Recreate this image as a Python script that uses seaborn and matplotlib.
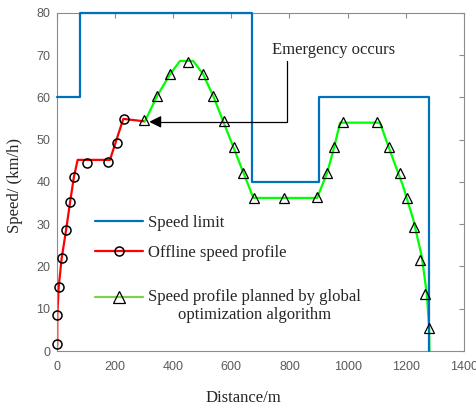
"""Speed profiles along the line: speed limit, offline profile and globally optimized profile."""

import matplotlib
matplotlib.use("Agg")
import matplotlib.pyplot as plt
import seaborn as sns
from matplotlib.lines import Line2D

# Speed limit breakpoints (drawn as a post-step line).
limit_x = [0, 80, 671, 900, 1280, 1280]
limit_y = [60, 80, 40, 60, 0, 0]

# Offline speed profile: the red line and its circle samples.
offline_x = [0, 2, 2, 7, 17, 32, 46, 59, 72, 183, 229, 303]
offline_y = [0, 1.7, 8.4, 15.2, 21.9, 28.5, 35.2, 41.1, 45.2, 45.2, 54.9, 54.3]
circle_x = [2, 2, 7, 17, 32, 46, 59, 105, 177, 206, 233]
circle_y = [1.7, 8.4, 15.2, 21.9, 28.5, 35.2, 41.1, 44.4, 44.8, 49.3, 54.8]

# Profile planned by the global optimization: green line and triangle samples.
planned_x = [303, 345, 390, 424, 469, 503, 538, 676, 895, 930, 954, 974,
             1111, 1157, 1191, 1226, 1255, 1272, 1280, 1281]
planned_y = [54.3, 60.3, 65.5, 68.6, 68.6, 65.5, 60.3, 36.2, 36.2, 42.2, 48.3, 54.0,
             54.0, 45.2, 38.9, 31.0, 22.3, 13.6, 5.7, 0]
tri_x = [301, 345, 390, 452, 503, 538, 574, 611, 641, 678, 783, 896,
         930, 954, 985, 1101, 1143, 1179, 1204, 1228, 1249, 1267, 1279]
tri_y = [54.6, 60.3, 65.5, 68.4, 65.5, 60.3, 54.4, 48.3, 42.2, 36.3, 36.3, 36.4,
         42.2, 48.3, 54.1, 54.1, 48.3, 42.2, 36.3, 29.4, 21.5, 13.6, 5.4]

x_ticks = list(range(0, 1401, 200))
y_ticks = list(range(0, 81, 10))

BLUE = "#0072BD"
RED = "#FF0000"
GREEN = "#00FF00"
SERIF = "Liberation Serif"

sns.set_theme(style="white")
plt.rcParams["font.family"] = [SERIF, "DejaVu Serif"]

fig = plt.figure(figsize=(4.76, 4.05), dpi=100)
ax = fig.add_axes([0.1191, 0.1333, 0.8557, 0.8353])

sns.lineplot(x=limit_x, y=limit_y, ax=ax, color=BLUE, lw=1.6, drawstyle="steps-post",
             estimator=None, sort=False, zorder=3, clip_on=False)
sns.lineplot(x=offline_x, y=offline_y, ax=ax, color=RED, lw=1.6, estimator=None, sort=False)
sns.lineplot(x=planned_x, y=planned_y, ax=ax, color=GREEN, lw=1.6, estimator=None, sort=False)
sns.lineplot(x=circle_x, y=circle_y, ax=ax, ls="none", marker="o", ms=6.5, mfc="none",
             mec="black", mew=1.1, estimator=None, sort=False, zorder=4, clip_on=False)
sns.lineplot(x=tri_x, y=tri_y, ax=ax, ls="none", marker="^", ms=7.5, mfc="none",
             mec="black", mew=0.9, estimator=None, sort=False, zorder=4, clip_on=False)

# Emergency annotation with an elbow leader ending in an arrow.
ax.annotate("", xy=(318, 54.2), xytext=(793, 68.6),
            arrowprops=dict(arrowstyle="-|>,head_length=0.6,head_width=0.3", color="black",
                            lw=0.9, mutation_scale=12, shrinkA=0, shrinkB=0,
                            connectionstyle="angle,angleA=90,angleB=0,rad=0"))
ax.text(951, 71.2, "Emergency occurs", ha="center", va="center", fontsize=12, family=SERIF)

ax.set_xlim(0, 1400)
ax.set_ylim(0, 80)
ax.set_xticks(x_ticks)
ax.set_yticks(y_ticks)
for lab in ax.get_xticklabels() + ax.get_yticklabels():
    lab.set_family("Liberation Sans")
ax.tick_params(axis="both", direction="in", length=3.5, width=0.8, colors="#8c8c8c",
               labelcolor="#5a5a5a", labelsize=9, top=True, right=True)
ax.tick_params(axis="x", pad=7)
ax.tick_params(axis="y", pad=4.5)
for sp in ax.spines.values():
    sp.set_color("#8c8c8c")
    sp.set_linewidth(0.8)
ax.grid(False)

ax.set_xlabel("Distance/m", fontsize=12, family=SERIF)
ax.set_ylabel("Speed/ (km/h)", fontsize=12, family=SERIF)
ax.xaxis.set_label_coords(0.459, -0.115)
ax.yaxis.set_label_coords(-0.083, 0.49)

# Legend: first two entries, then the two-line entry placed separately.
h_limit = Line2D([], [], color=BLUE, lw=1.6)
h_off = Line2D([], [], color=RED, lw=1.6, marker="o", ms=6.5, mfc="none", mec="black", mew=1.1)
h_plan = Line2D([], [], color="#7fcf4c", lw=1.6, marker="^", ms=8, mfc="none", mec="black", mew=0.9)
leg_kw = dict(frameon=False, fontsize=12, handlelength=2.9, handletextpad=0.3,
              borderpad=0, borderaxespad=0, numpoints=1, loc="center left")
leg1 = ax.legend([h_limit, h_off], ["Speed limit", "Offline speed profile"],
                 bbox_to_anchor=(0.094, (351 - 238) / 338.3), labelspacing=0.85, **leg_kw)
ax.add_artist(leg1)
leg2 = ax.legend([h_plan], ["\nSpeed profile planned by global\noptimization algorithm"],
                 bbox_to_anchor=(0.094, (351 - 297) / 338.3), **leg_kw)
for t in leg2.get_texts():
    t.set_multialignment("center")

fig.savefig("out.png", dpi=100)
